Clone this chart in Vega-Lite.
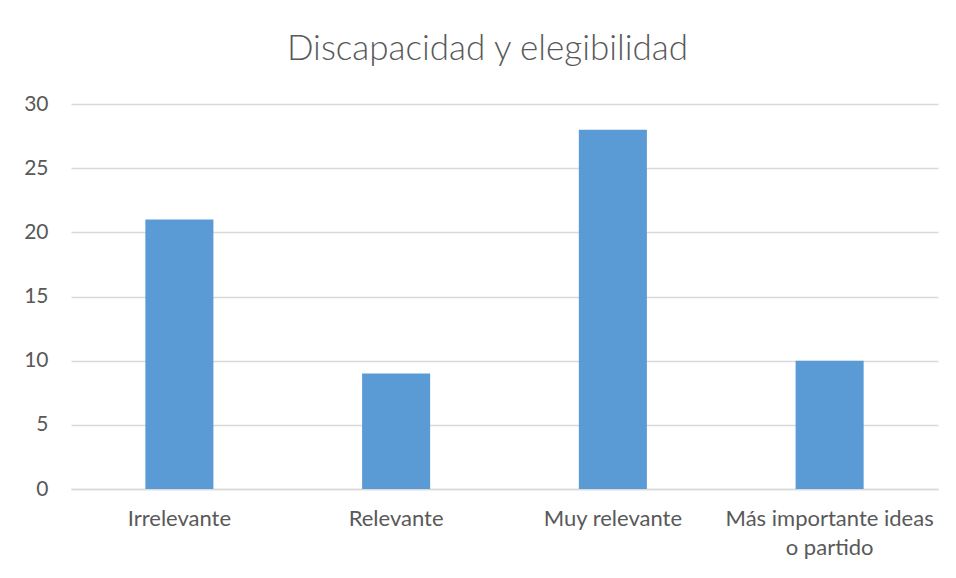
{
  "$schema": "https://vega.github.io/schema/vega-lite/v6.json",
  "width": 867,
  "height": 385,
  "autosize": {"type": "none"},
  "padding": {"left": 71, "top": 104, "right": 18, "bottom": 89},
  "background": "white",
  "title": {
    "text": "Discapacidad y elegibilidad",
    "font": "Lato",
    "fontSize": 35,
    "fontWeight": 300,
    "color": "#595959",
    "anchor": "middle",
    "dx": -17,
    "offset": 26
  },
  "data": {
    "values": [
      {"categoria": "Irrelevante", "valor": 21},
      {"categoria": "Relevante", "valor": 9},
      {"categoria": "Muy relevante", "valor": 28},
      {"categoria": "Más importante ideas o partido", "valor": 10}
    ]
  },
  "mark": {"type": "bar", "color": "#5b9bd5"},
  "encoding": {
    "x": {
      "field": "categoria",
      "type": "nominal",
      "sort": null,
      "title": null,
      "scale": {"paddingInner": 0.686, "paddingOuter": 0.343},
      "axis": {
        "labelAngle": 0,
        "labelFont": "Lato",
        "labelFontSize": 22,
        "labelColor": "#595959",
        "labelPadding": 19,
        "labelLimit": 0,
        "labelLineHeight": 29,
        "labelExpr": "datum.label == 'Más importante ideas o partido' ? ['Más importante ideas', 'o partido'] : datum.label",
        "ticks": false,
        "domainColor": "#d9d9d9",
        "domainWidth": 1.3,
        "grid": false
      }
    },
    "y": {
      "field": "valor",
      "type": "quantitative",
      "title": null,
      "scale": {"domain": [0, 30]},
      "axis": {
        "values": [0, 5, 10, 15, 20, 25, 30],
        "labelFont": "Lato",
        "labelFontSize": 21,
        "labelColor": "#595959",
        "labelPadding": 23,
        "ticks": false,
        "domain": false,
        "gridColor": "#d9d9d9",
        "gridWidth": 1.3
      }
    }
  },
  "config": {"view": {"stroke": null}}
}
